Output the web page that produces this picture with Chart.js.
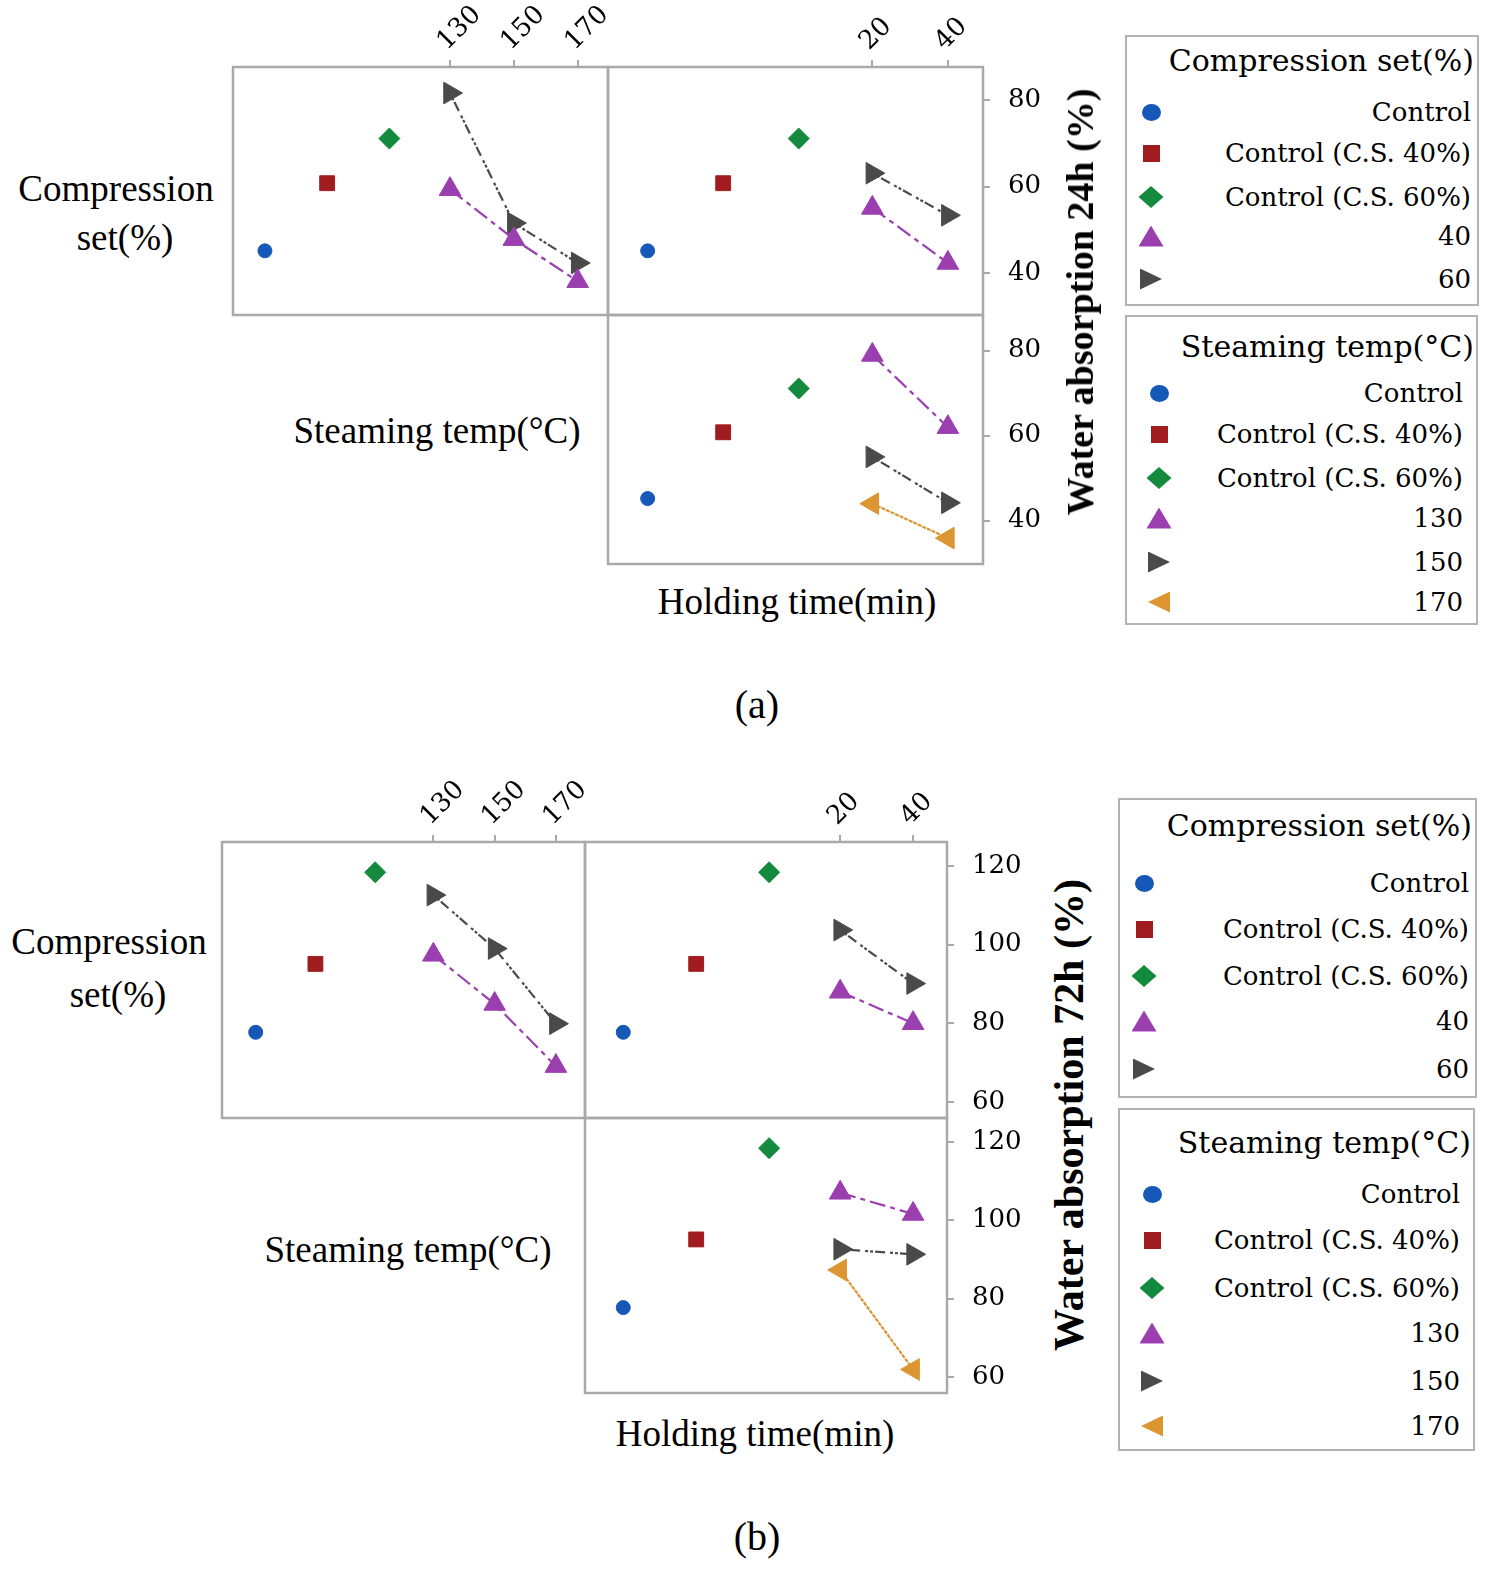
<!DOCTYPE html>
<html><head><meta charset="utf-8">
<script src="https://cdn.jsdelivr.net/npm/chart.js@4.4.1/dist/chart.umd.min.js"></script>
<style>
html,body{margin:0;padding:0;background:#fff;}
#root{position:relative;width:1500px;height:1576px;overflow:hidden;background:#fff;}
canvas{position:absolute;}
.t{position:absolute;white-space:nowrap;color:#000;line-height:1;}
.lab{font-family:'Liberation Serif','Times New Roman',serif;font-size:37px;}
.vlab{font-family:'Liberation Serif','Times New Roman',serif;font-weight:bold;}
.cap{font-family:'Liberation Serif','Times New Roman',serif;font-size:40px;}
.lt{font-family:'DejaVu Serif',serif;}
.leg{position:absolute;border:2.5px solid #b3b3b3;box-sizing:border-box;}
.mk{position:absolute;}
</style></head><body><div id="root"></div>
<script>
// ---------- data ----------
const controlLabels = ['Control', 'Control (C.S. 40%)', 'Control (C.S. 60%)'];
const csLevels = ['40', '60'];
const tempLevels = [130, 150, 170];
const timeLevels = [20, 40];
const tempTicks = [130, 150, 170];
const timeTicks = [20, 40];
const yTicksA = [40, 60, 80];
const yTicksB = [60, 80, 100, 120];
const ctrlTempPos = [72, 91.5, 111];     // where the control points sit on the Steaming temp axis
const ctrlTimePos = [-39.5, -19.5, 0.5]; // where the control points sit on the Holding time axis

// (a) Water absorption 24h (%)
const aControl = [45.2, 60.8, 71.1];
const aCS40byTemp = [59.4, 47.9, 38.2];
const aCS60byTemp = [81.6, 51.6, 42.4];
const aCS40byTime = [55.1, 42.4];
const aCS60byTime = [63.1, 53.4];
const aT130byTime = [79.0, 62.0];
const aT150byTime = [55.0, 44.2];
const aT170byTime = [44.0, 35.9];

// (b) Water absorption 72h (%)
const bControl = [77.7, 95.1, 118.4];
const bCS40byTemp = [97.4, 84.9, 69.1];
const bCS60byTemp = [112.6, 99.0, 79.9];
const bCS40byTime = [88.0, 80.0];
const bCS60byTime = [103.7, 90.1];
const bT130byTime = [107.0, 101.6];
const bT150byTime = [92.6, 91.3];
const bT170byTime = [87.3, 61.9];

// ---------- styles ----------
const ctrlStyles = [
  {color: '#1558b8', style: 'circle', r: 7, css: 'circle'},
  {color: '#a11c1f', style: 'rect', r: 10.5, css: 'rect'},
  {color: '#138a3d', style: 'rectRot', r: 10.5, css: 'diamond'}
];
const purple = {color: '#9b3fb0', style: 'triangle', rot: 0, dash: [16, 5, 5, 5], css: 'triUp'};
const gray = {color: '#4a4a4a', style: 'triangle', rot: 90, dash: [3, 2, 3, 2, 10, 5], css: 'triRight'};
const orange = {color: '#dc9531', style: 'triangle', rot: -90, dash: [4, 1], css: 'triLeft'};

const root = document.getElementById('root');

function ctrlSets(pos, vals) {
  return vals.map((v, i) => ({
    label: controlLabels[i], data: [{x: pos[i], y: v}], showLine: false,
    pointStyle: ctrlStyles[i].style, pointRadius: ctrlStyles[i].r,
    backgroundColor: ctrlStyles[i].color, borderColor: ctrlStyles[i].color,
    pointBorderWidth: 1, clip: false
  }));
}
function lineSet(label, xs, ys, st) {
  return {
    label, data: xs.map((x, i) => ({x, y: ys[i]})), showLine: true,
    borderColor: st.color, backgroundColor: st.color, borderWidth: 2.2, borderDash: st.dash,
    pointStyle: st.style, pointRotation: st.rot, pointRadius: 12.5, pointBorderWidth: 1,
    pointBackgroundColor: st.color, pointBorderColor: st.color, tension: 0, clip: false
  };
}

const frame = {
  id: 'frame',
  beforeDatasetsDraw(chart) {
    const {ctx, chartArea: a} = chart;
    ctx.save();
    ctx.strokeStyle = '#a9a9a9';
    ctx.lineWidth = 2.5;
    ctx.strokeRect(a.left, a.top, a.right - a.left, a.bottom - a.top);
    ctx.restore();
  }
};

function zeroPad(s) { s.paddingTop = 0; s.paddingBottom = 0; s.paddingLeft = 0; s.paddingRight = 0; }

const M = 3;
function panel(p) {
  const topH = p.xTicks ? Math.min(80, p.top) : 0;
  const rightW = p.yTicks ? 95 : 0;
  const padL = M, padB = M, padT = p.xTicks ? 0 : M, padR = p.yTicks ? 0 : 45;
  const cw = p.width + rightW + padL + padR;
  const ch = p.height + topH + padT + padB;
  const c = document.createElement('canvas');
  c.width = cw; c.height = ch;
  c.style.left = (p.left - padL) + 'px';
  c.style.top = (p.top - topH - padT) + 'px';
  c.style.width = cw + 'px'; c.style.height = ch + 'px';
  root.appendChild(c);
  const tickFont = {family: 'DejaVu Serif', size: 26};
  new Chart(c, {
    type: 'line',
    data: {datasets: p.datasets},
    options: {
      responsive: false, animation: false, devicePixelRatio: 1,
      layout: {padding: {left: padL, right: padR, top: padT, bottom: padB}, autoPadding: false},
      plugins: {legend: {display: false}, tooltip: {enabled: false}},
      scales: {
        x: {
          type: 'linear', position: 'top', min: p.xMin, max: p.xMax, display: !!p.xTicks,
          afterBuildTicks: s => { if (p.xTicks) s.ticks = p.xTicks.map(v => ({value: v})); },
          afterFit: s => { s.height = topH; zeroPad(s); },
          grid: {drawOnChartArea: false, drawTicks: true, tickLength: 7, color: '#a9a9a9', lineWidth: 2},
          border: {display: false},
          ticks: {minRotation: 45, maxRotation: 45, padding: 3, labelOffset: 14, color: '#000', font: tickFont, autoSkip: false}
        },
        y: {
          type: 'linear', position: 'right', min: p.yMin, max: p.yMax, display: !!p.yTicks,
          afterBuildTicks: s => { if (p.yTicks) s.ticks = p.yTicks.map(v => ({value: v})); },
          afterFit: s => { s.width = rightW; zeroPad(s); },
          grid: {drawOnChartArea: false, drawTicks: true, tickLength: 7, color: '#a9a9a9', lineWidth: 2},
          border: {display: false},
          ticks: {padding: 18, color: '#000', font: tickFont, autoSkip: false}
        }
      }
    },
    plugins: [frame]
  });
}

// ---------- (a) ----------
const aY = [30.4, 87.6], aYb = [29.8, 88.4];
panel({left: 233, top: 67, width: 375, height: 248, xMin: 62, xMax: 179.5, yMin: aY[0], yMax: aY[1],
  xTicks: tempTicks, yTicks: null,
  datasets: [...ctrlSets(ctrlTempPos, aControl),
    lineSet('40', tempLevels, aCS40byTemp, purple), lineSet('60', tempLevels, aCS60byTemp, gray)]});
panel({left: 608, top: 67, width: 375, height: 248, xMin: -50, xMax: 49.3, yMin: aY[0], yMax: aY[1],
  xTicks: timeTicks, yTicks: yTicksA,
  datasets: [...ctrlSets(ctrlTimePos, aControl),
    lineSet('40', timeLevels, aCS40byTime, purple), lineSet('60', timeLevels, aCS60byTime, gray)]});
panel({left: 608, top: 315, width: 375, height: 249, xMin: -50, xMax: 49.3, yMin: aYb[0], yMax: aYb[1],
  xTicks: null, yTicks: yTicksA,
  datasets: [...ctrlSets(ctrlTimePos, aControl),
    lineSet('130', timeLevels, aT130byTime, purple), lineSet('150', timeLevels, aT150byTime, gray),
    lineSet('170', timeLevels, aT170byTime, orange)]});

// ---------- (b) ----------
const bY = [55.9, 126.1];
panel({left: 222, top: 842, width: 363, height: 276, xMin: 61, xMax: 179.5, yMin: bY[0], yMax: bY[1],
  xTicks: tempTicks, yTicks: null,
  datasets: [...ctrlSets(ctrlTempPos, bControl),
    lineSet('40', tempLevels, bCS40byTemp, purple), lineSet('60', tempLevels, bCS60byTemp, gray)]});
panel({left: 585, top: 842, width: 362, height: 276, xMin: -50, xMax: 49.3, yMin: bY[0], yMax: bY[1],
  xTicks: timeTicks, yTicks: yTicksB,
  datasets: [...ctrlSets(ctrlTimePos, bControl),
    lineSet('40', timeLevels, bCS40byTime, purple), lineSet('60', timeLevels, bCS60byTime, gray)]});
panel({left: 585, top: 1118, width: 362, height: 275, xMin: -50, xMax: 49.3, yMin: bY[0], yMax: bY[1],
  xTicks: null, yTicks: yTicksB,
  datasets: [...ctrlSets(ctrlTimePos, bControl),
    lineSet('130', timeLevels, bT130byTime, purple), lineSet('150', timeLevels, bT150byTime, gray),
    lineSet('170', timeLevels, bT170byTime, orange)]});

// ---------- text ----------
function txt(s, x, y, cls, anchor, extra) {
  const d = document.createElement('div');
  d.className = 't ' + cls;
  d.textContent = s;
  d.style.left = x + 'px'; d.style.top = y + 'px';
  const tx = anchor === 'right' ? '-100%' : (anchor === 'left' ? '0' : '-50%');
  d.style.transform = 'translate(' + tx + ',-50%)' + (extra || '');
  root.appendChild(d);
  return d;
}
function vtxt(s, x, y, size) {
  const d = document.createElement('div');
  d.className = 't vlab';
  d.style.fontSize = size + 'px';
  d.textContent = s;
  d.style.left = x + 'px'; d.style.top = y + 'px';
  d.style.transform = 'translate(-50%,-50%) rotate(-90deg)';
  root.appendChild(d);
}

// (a)
txt('Compression', 116, 188, 'lab');
txt('set(%)', 125, 237, 'lab');
txt('Steaming temp(°C)', 437, 430, 'lab');
txt('Holding time(min)', 797, 601, 'lab');
vtxt('Water absorption 24h (%)', 1080, 302, 38);
txt('(a)', 757, 705, 'cap');
// (b)
txt('Compression', 109, 941, 'lab');
txt('set(%)', 118, 994, 'lab');
txt('Steaming temp(°C)', 408, 1249, 'lab');
txt('Holding time(min)', 755, 1433, 'lab');
vtxt('Water absorption 72h (%)', 1069, 1115, 42);
txt('(b)', 757, 1537, 'cap');

// ---------- legends ----------
function marker(kind, color, cx, cy) {
  const d = document.createElement('div');
  d.className = 'mk';
  let w, h, clip = '', br = '0';
  if (kind === 'circle') { w = 19; h = 17; br = '50%'; }
  else if (kind === 'rect') { w = 17; h = 17; }
  else if (kind === 'diamond') { w = 25; h = 22; clip = 'polygon(50% 0,100% 50%,50% 100%,0 50%)'; }
  else if (kind === 'triUp') { w = 25; h = 21; clip = 'polygon(50% 0,100% 100%,0 100%)'; }
  else if (kind === 'triRight') { w = 22; h = 21; clip = 'polygon(0 0,100% 50%,0 100%)'; }
  else { w = 22; h = 21; clip = 'polygon(100% 0,0 50%,100% 100%)'; }
  d.style.width = w + 'px'; d.style.height = h + 'px';
  d.style.left = (cx - w / 2) + 'px'; d.style.top = (cy - h / 2) + 'px';
  d.style.background = color; d.style.borderRadius = br;
  if (clip) d.style.clipPath = clip;
  root.appendChild(d);
}
function legend(box, title, titleY, titleRight, entries, rows, mkX, textRight) {
  const b = document.createElement('div');
  b.className = 'leg';
  b.style.left = box[0] + 'px'; b.style.top = box[1] + 'px';
  b.style.width = (box[2] - box[0]) + 'px'; b.style.height = (box[3] - box[1]) + 'px';
  root.appendChild(b);
  const t = txt(title, titleRight, titleY, 'lt', 'right');
  t.style.fontSize = '30px';
  entries.forEach((e, i) => {
    marker(e.css, e.color, mkX, rows[i]);
    const d = txt(e.label, textRight, rows[i], 'lt', 'right');
    d.style.fontSize = '26px';
  });
}
const ctrlEntries = controlLabels.map((l, i) => ({label: l, css: ctrlStyles[i].css, color: ctrlStyles[i].color}));
const csEntries = ctrlEntries.concat(csLevels.map((l, i) => ({label: l, css: [purple, gray][i].css, color: [purple, gray][i].color})));
const tempEntries = ctrlEntries.concat(tempLevels.map((l, i) => ({label: String(l), css: [purple, gray, orange][i].css, color: [purple, gray, orange][i].color})));

legend([1125, 35, 1479, 306], 'Compression set(%)', 61, 1474, csEntries, [112, 153, 197, 236, 279], 1151, 1471);
legend([1125, 315, 1478, 625], 'Steaming temp(°C)', 347, 1474, tempEntries, [393, 434, 478, 518, 562, 602], 1159, 1463);
legend([1118, 798, 1477, 1098], 'Compression set(%)', 826, 1472, csEntries, [883, 929, 976, 1021, 1069], 1144, 1469);
legend([1118, 1108, 1475, 1451], 'Steaming temp(°C)', 1143, 1471, tempEntries, [1194, 1240, 1288, 1333, 1381, 1426], 1152, 1460);
</script></body></html>
